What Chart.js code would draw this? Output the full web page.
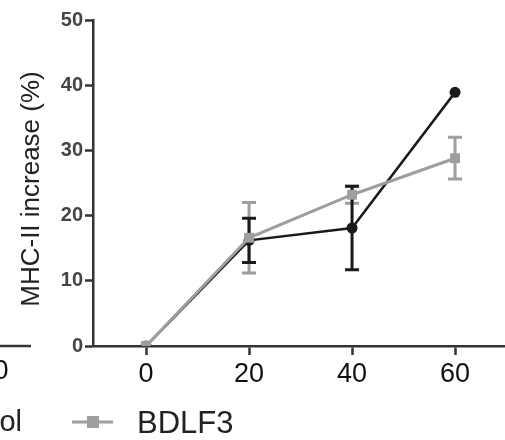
<!DOCTYPE html>
<html>
<head>
<meta charset="utf-8">
<script src="https://cdn.jsdelivr.net/npm/chart.js@4.4.0/dist/chart.umd.min.js"></script>
<style>
  body { margin: 0; background: #fff; }
  #wrap { width: 505px; height: 440px; position: relative; }
</style>
</head>
<body>
<div id="wrap"><canvas id="mhcChart"></canvas></div>
<script>
// data
const timePoints = [0, 20, 40, 60];
const xTicks = [0, 20, 40, 60];
const yTicks = [0, 10, 20, 30, 40, 50];
const controlMean = [0, 16.2, 18.1, 38.9];
const controlErr = [0, 3.4, 6.4, 0];
const bdlf3Mean = [0, 16.6, 23.2, 28.8];
const bdlf3Err = [0, 5.4, 1.3, 3.2];

const axisColor = '#333';

// error bars drawn from the scales
const errorBars = {
    id: 'errorBars',
    beforeDatasetsDraw(chart) {
        const ctx = chart.ctx;
        const xs = chart.scales.x, ys = chart.scales.y;
        chart.data.datasets.forEach((ds) => {
            if (!ds.errors) return;
            ctx.save();
            ctx.strokeStyle = ds.borderColor;
            ctx.lineWidth = 3;
            ds.data.forEach((p, i) => {
                const e = ds.errors[i];
                if (!e) return;
                const x = xs.getPixelForValue(p.x);
                const top = ys.getPixelForValue(p.y + e);
                const bot = ys.getPixelForValue(p.y - e);
                ctx.beginPath();
                ctx.moveTo(x, top); ctx.lineTo(x, bot);
                ctx.moveTo(x - 7, top); ctx.lineTo(x + 7, top);
                ctx.moveTo(x - 7, bot); ctx.lineTo(x + 7, bot);
                ctx.stroke();
            });
            ctx.restore();
        });
    }
};

// axis title, legend and the cut-off neighbour panel
const extras = {
    id: 'extras',
    afterDraw(chart) {
        const ctx = chart.ctx;
        ctx.save();
        // y title
        ctx.fillStyle = '#222';
        ctx.font = '26px "Liberation Sans", Arial, sans-serif';
        ctx.textAlign = 'center';
        ctx.textBaseline = 'middle';
        ctx.translate(32, 189);
        ctx.rotate(-Math.PI / 2);
        ctx.fillText('MHC-II increase (%)', 0, 0);
        ctx.restore();

        ctx.save();
        // piece of the neighbouring panel
        ctx.strokeStyle = axisColor;
        ctx.lineWidth = 2.5;
        ctx.beginPath(); ctx.moveTo(0, 346); ctx.lineTo(31, 346); ctx.stroke();
        ctx.fillStyle = '#111';
        ctx.font = '27px "Liberation Sans", Arial, sans-serif';
        ctx.textAlign = 'center';
        ctx.textBaseline = 'middle';
        ctx.fillText('0', 1, 372);
        ctx.fillStyle = '#222';
        ctx.font = '29px "Liberation Sans", Arial, sans-serif';
        ctx.textAlign = 'right';
        ctx.textBaseline = 'alphabetic';
        ctx.fillText('Control', 22, 431);

        // legend
        ctx.strokeStyle = '#9e9e9e';
        ctx.lineWidth = 3;
        ctx.beginPath(); ctx.moveTo(72, 422); ctx.lineTo(113, 422); ctx.stroke();
        ctx.fillStyle = '#9e9e9e';
        ctx.fillRect(87, 416, 12, 12);
        ctx.fillStyle = '#222';
        ctx.textAlign = 'left';
        ctx.font = '31px "Liberation Sans", Arial, sans-serif';
        ctx.fillText('BDLF3', 137, 433);
        ctx.restore();
    }
};

const ctx = document.getElementById('mhcChart');
new Chart(ctx, {
    type: 'line',
    data: {
        datasets: [{
            label: 'BDLF3',
            data: timePoints.map((t, i) => ({ x: t, y: bdlf3Mean[i] })),
            errors: bdlf3Err,
            borderColor: '#9e9e9e',
            backgroundColor: '#9e9e9e',
            borderWidth: 3,
            pointStyle: 'rect',
            pointRadius: 7,
            pointBorderWidth: 0,
            order: 1
        }, {
            label: 'Control',
            data: timePoints.map((t, i) => ({ x: t, y: controlMean[i] })),
            errors: controlErr,
            borderColor: '#1a1a1a',
            backgroundColor: '#1a1a1a',
            borderWidth: 2.5,
            pointStyle: 'circle',
            pointRadius: 5.5,
            pointBorderWidth: 0,
            order: 2
        }]
    },
    options: {
        responsive: true,
        maintainAspectRatio: false,
        animation: false,
        layout: { autoPadding: false, padding: { top: 20, right: 0, bottom: 0, left: 0 } },
        plugins: { legend: { display: false }, tooltip: { enabled: false } },
        scales: {
            x: {
                type: 'linear',
                min: -10.3,
                max: 69.7,
                afterBuildTicks: (s) => { s.ticks = xTicks.map((v) => ({ value: v })); },
                afterFit: (s) => { s.height = 94; },
                grid: { drawOnChartArea: false, tickLength: 9, tickColor: axisColor, tickWidth: 2.5 },
                border: { color: axisColor, width: 2.5 },
                ticks: {
                    padding: 3,
                    color: '#111',
                    font: { family: '"Liberation Sans", Arial, sans-serif', size: 27 }
                }
            },
            y: {
                min: 0,
                max: 50,
                afterBuildTicks: (s) => { s.ticks = yTicks.map((v) => ({ value: v })); },
                afterFit: (s) => { s.width = 93; },
                grid: { drawOnChartArea: false, tickLength: 8, tickColor: axisColor, tickWidth: 2.5 },
                border: { color: axisColor, width: 2.5 },
                ticks: {
                    padding: 2,
                    color: '#444',
                    font: { family: '"Liberation Sans", Arial, sans-serif', size: 20, weight: 'bold' }
                }
            }
        }
    },
    plugins: [errorBars, extras]
});
</script>
</body>
</html>
